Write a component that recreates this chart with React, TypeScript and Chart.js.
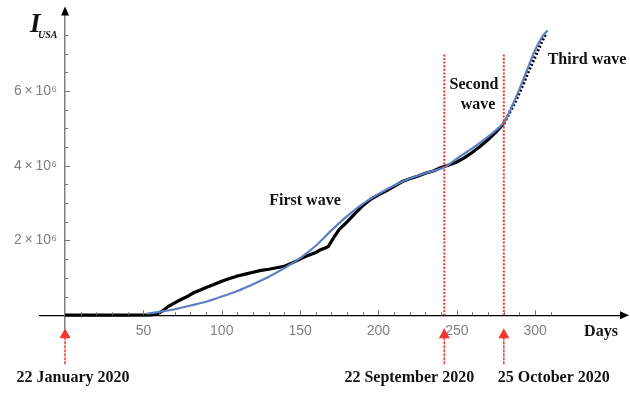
import React, { useEffect, useRef } from "react";
import { Chart, registerables } from "chart.js";

Chart.register(...registerables);

// Observed cumulative infections (millions) by day since 22 January 2020
const BLACK_DAYS = [0, 20, 40, 55, 58, 60, 63, 66, 70, 74, 78, 82, 86, 90, 95, 100, 105, 110, 115, 120, 125, 130, 135, 140, 145, 150, 155, 160, 163, 166, 168, 171, 175, 180, 185, 190, 195, 200, 205, 210, 215, 220, 225, 230, 235, 240, 245, 250, 255, 260, 265, 270, 275, 280, 284, 288, 292, 296, 300, 304, 307];
const BLACK_VALUES = [0, 0, 0, 0.01, 0.03, 0.06, 0.14, 0.24, 0.33, 0.42, 0.5, 0.6, 0.67, 0.74, 0.82, 0.91, 0.98, 1.05, 1.1, 1.15, 1.2, 1.23, 1.27, 1.31, 1.4, 1.5, 1.6, 1.68, 1.75, 1.8, 1.84, 2.05, 2.3, 2.5, 2.72, 2.93, 3.1, 3.22, 3.33, 3.45, 3.57, 3.65, 3.72, 3.8, 3.86, 3.95, 4.02, 4.1, 4.22, 4.36, 4.52, 4.7, 4.9, 5.13, 5.45, 5.78, 6.15, 6.55, 6.92, 7.3, 7.55];

// Fitted model (millions)
const FIT_DAYS = [52, 60, 70, 80, 90, 100, 110, 120, 130, 140, 150, 160, 170, 180, 190, 200, 210, 220, 230, 242, 250, 260, 270, 280, 285, 290, 295, 300, 305, 308];
const FIT_VALUES = [0.04, 0.09, 0.16, 0.26, 0.36, 0.5, 0.65, 0.83, 1.03, 1.26, 1.53, 1.86, 2.27, 2.65, 2.98, 3.24, 3.47, 3.66, 3.8, 3.96, 4.19, 4.47, 4.78, 5.15, 5.57, 6.05, 6.58, 7.1, 7.48, 7.62];

const Y_LABELED = [2, 4, 6]; // ×10^6
const X_LABELED = [50, 100, 150, 200, 250, 300];
const WAVE_BOUNDARIES = [242, 280];
const MARK_DAYS = [0, 242, 280];
const MARK_LABELS = ["22 January 2020", "22 September 2020", "25 October 2020"];
const MARK_LABEL_OFFSETS = [8, -35, 50];

const Y_TICK_VALUES: number[] = [];
for (let i = 1; i <= 15; i++) Y_TICK_VALUES.push(i * 0.5e6);
const X_TICK_VALUES: number[] = [];
for (let i = 1; i <= 31; i++) X_TICK_VALUES.push(i * 10);

const annotations = {
  id: "annotations",
  afterDraw(chart: any) {
    const ctx = chart.ctx as CanvasRenderingContext2D;
    const xs = chart.scales.x;
    const ys = chart.scales.y;
    const x0 = xs.getPixelForValue(0);
    const y0 = ys.getPixelForValue(0);
    const red = "#f2362a";
    ctx.save();

    // tick marks (inside)
    ctx.strokeStyle = "#777";
    ctx.lineWidth = 1;
    for (const t of ys.ticks) {
      const m = t.value / 1e6;
      const len = Y_LABELED.includes(m) ? 5 : 3;
      const py = Math.round(ys.getPixelForValue(t.value)) + 0.5;
      ctx.beginPath();
      ctx.moveTo(x0, py);
      ctx.lineTo(x0 + len, py);
      ctx.stroke();
    }
    for (const t of xs.ticks) {
      const len = X_LABELED.includes(t.value) ? 5 : 3;
      const px = Math.round(xs.getPixelForValue(t.value)) + 0.5;
      ctx.beginPath();
      ctx.moveTo(px, y0);
      ctx.lineTo(px, y0 - len);
      ctx.stroke();
    }

    // axis arrow heads
    ctx.fillStyle = "#000";
    const right = chart.chartArea.right;
    ctx.beginPath();
    ctx.moveTo(right + 5, y0);
    ctx.lineTo(right - 4, y0 - 4);
    ctx.lineTo(right - 4, y0 + 4);
    ctx.closePath();
    ctx.fill();
    const top = chart.chartArea.top;
    ctx.beginPath();
    ctx.moveTo(x0, top - 5);
    ctx.lineTo(x0 - 4, top + 4);
    ctx.lineTo(x0 + 4, top + 4);
    ctx.closePath();
    ctx.fill();

    // wave boundaries
    ctx.strokeStyle = red;
    ctx.lineWidth = 2;
    ctx.setLineDash([2, 1.6]);
    const lineTop = ys.getPixelForValue(6.98e6);
    for (const d of WAVE_BOUNDARIES) {
      const px = xs.getPixelForValue(d);
      ctx.beginPath();
      ctx.moveTo(px, lineTop);
      ctx.lineTo(px, y0);
      ctx.stroke();
    }
    ctx.setLineDash([]);

    // date arrows
    ctx.lineWidth = 1.5;
    MARK_DAYS.forEach((d, i) => {
      const px = xs.getPixelForValue(d);
      ctx.fillStyle = red;
      ctx.strokeStyle = red;
      ctx.setLineDash([3, 1]);
      ctx.beginPath();
      ctx.moveTo(px, y0 + 22);
      ctx.lineTo(px, y0 + 50);
      ctx.stroke();
      ctx.setLineDash([]);
      ctx.beginPath();
      ctx.moveTo(px, y0 + 13);
      ctx.lineTo(px - 5.5, y0 + 23);
      ctx.lineTo(px + 5.5, y0 + 23);
      ctx.closePath();
      ctx.fill();
      ctx.fillStyle = "#111";
      ctx.font = "bold 16px 'Liberation Serif'";
      ctx.textAlign = "center";
      ctx.textBaseline = "middle";
      ctx.fillText(MARK_LABELS[i], px + MARK_LABEL_OFFSETS[i], y0 + 63);
    });

    // texts
    ctx.fillStyle = "#111";
    ctx.font = "bold 16px 'Liberation Serif'";
    ctx.textAlign = "center";
    ctx.textBaseline = "middle";
    ctx.fillText("First wave", 305, 201);
    ctx.fillText("Second", 474, 85);
    ctx.fillText("wave", 478, 105);
    ctx.fillText("Third wave", 587, 60);
    ctx.fillText("Days", 601, 332);

    // y title
    ctx.textAlign = "left";
    ctx.textBaseline = "alphabetic";
    ctx.font = "italic bold 27px 'Liberation Serif'";
    ctx.fillText("I", 30, 32);
    ctx.font = "italic bold 10px 'Liberation Serif'";
    ctx.fillText("USA", 38, 38);

    ctx.restore();
  },
};

export default function App() {
  const ref = useRef<HTMLCanvasElement | null>(null);
  useEffect(() => {
    if (!ref.current) return;
    const black = BLACK_DAYS.map((d, i) => ({ x: d, y: BLACK_VALUES[i] * 1e6 }));
    const fit = FIT_DAYS.map((d, i) => ({ x: d, y: FIT_VALUES[i] * 1e6 }));
    const tickFont = { family: "'Liberation Sans', Arial, sans-serif", size: 14 };
    const chart = new Chart(ref.current, {
      type: "line",
      data: {
        datasets: [
          {
            label: "fit",
            data: fit,
            borderColor: "#5b80c2",
            borderWidth: 2.2,
            pointRadius: 0,
            tension: 0.3,
            order: 0,
          },
          {
            label: "observed",
            data: black,
            borderColor: "#000",
            borderWidth: 3.2,
            pointRadius: 0,
            tension: 0,
            order: 1,
            segment: {
              borderDash: (c: any) => (c.p0.parsed.x >= 280 ? [2, 2] : undefined),
            },
          },
        ],
      },
      plugins: [annotations],
      options: {
        responsive: false,
        animation: false,
        events: [],
        layout: { padding: { left: 40, right: 6, top: 6, bottom: 67 } },
        plugins: { legend: { display: false }, tooltip: { enabled: false } },
        scales: {
          x: {
            type: "linear",
            position: { y: 0 } as any,
            min: -16,
            max: 356.7,
            afterFit: (s: any) => {
              s.height = 0;
            },
            afterBuildTicks: (s: any) => {
              s.ticks = X_TICK_VALUES.map((v) => ({ value: v }));
            },
            grid: { display: false, drawTicks: false },
            border: { display: true, color: "#000", width: 1.3 },
            ticks: {
              autoSkip: false,
              maxRotation: 0,
              padding: 8,
              color: "#808080",
              font: tickFont,
              callback: (v: any) => (X_LABELED.includes(Number(v)) ? String(v) : ""),
            },
          },
          y: {
            type: "linear",
            position: { x: 0 } as any,
            min: -0.342e6,
            max: 8.13e6,
            afterFit: (s: any) => {
              s.width = 0;
            },
            afterBuildTicks: (s: any) => {
              s.ticks = Y_TICK_VALUES.map((v) => ({ value: v }));
            },
            grid: { display: false, drawTicks: false },
            border: { display: true, color: "#808080", width: 1.5 },
            ticks: {
              autoSkip: false,
              color: "#808080",
              font: tickFont,
              callback: (v: any) => {
                const m = Number(v) / 1e6;
                return Y_LABELED.includes(m) ? `${m}\u2009\u00d7\u200910\u2076\u2002\u200a` : "";
              },
            },
          },
        },
      },
    });
    return () => chart.destroy();
  }, []);
  return (
    <div style={{ position: "fixed", left: 0, top: 0, width: 630, height: 395, background: "#fff" }}>
      <canvas ref={ref} width={630} height={395} />
    </div>
  );
}
